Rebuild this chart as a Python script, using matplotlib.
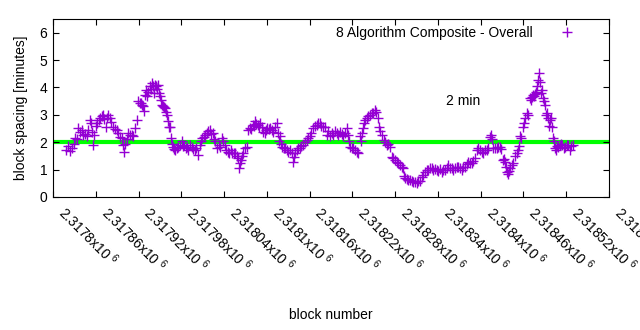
import matplotlib
matplotlib.use("Agg")
import matplotlib.pyplot as plt
import matplotlib.transforms as mtransforms
from matplotlib.ticker import FuncFormatter, MultipleLocator

plt.rcParams['font.family'] = ['Liberation Sans', 'DejaVu Sans']
plt.rcParams['mathtext.fontset'] = 'custom'
plt.rcParams['mathtext.rm'] = 'Liberation Sans'

# block numbers and block spacing (minutes)
blocks = [
    2317818, 2317821, 2317824, 2317827, 2317829, 2317831, 2317834, 2317835, 2317838, 2317841,
    2317842, 2317845, 2317848, 2317849, 2317852, 2317853, 2317855, 2317856, 2317858, 2317860,
    2317862, 2317865, 2317866, 2317869, 2317870, 2317872, 2317874, 2317876, 2317877, 2317880,
    2317881, 2317884, 2317887, 2317890, 2317891, 2317894, 2317897, 2317898, 2317900, 2317901,
    2317904, 2317905, 2317908, 2317911, 2317912, 2317915, 2317918, 2317919, 2317922, 2317923,
    2317925, 2317926, 2317928, 2317929, 2317930, 2317932, 2317933, 2317936, 2317937, 2317939,
    2317940, 2317942, 2317943, 2317944, 2317946, 2317947, 2317949, 2317950, 2317952, 2317953,
    2317954, 2317956, 2317957, 2317959, 2317960, 2317961, 2317963, 2317964, 2317966, 2317967,
    2317968, 2317970, 2317971, 2317974, 2317975, 2317978, 2317981, 2317982, 2317984, 2317987,
    2317988, 2317989, 2317992, 2317995, 2317996, 2317999, 2318001, 2318003, 2318006, 2318008,
    2318009, 2318012, 2318013, 2318016, 2318017, 2318020, 2318022, 2318024, 2318026, 2318027,
    2318030, 2318033, 2318034, 2318037, 2318038, 2318041, 2318043, 2318045, 2318047, 2318050,
    2318051, 2318054, 2318055, 2318058, 2318060, 2318061, 2318062, 2318064, 2318065, 2318067,
    2318069, 2318072, 2318074, 2318076, 2318078, 2318081, 2318082, 2318083, 2318085, 2318088,
    2318089, 2318090, 2318093, 2318095, 2318097, 2318099, 2318100, 2318103, 2318104, 2318107,
    2318109, 2318111, 2318114, 2318116, 2318117, 2318118, 2318120, 2318121, 2318124, 2318125,
    2318128, 2318130, 2318132, 2318135, 2318137, 2318138, 2318140, 2318142, 2318144, 2318147,
    2318148, 2318151, 2318154, 2318156, 2318158, 2318161, 2318162, 2318165, 2318168, 2318170,
    2318172, 2318175, 2318176, 2318179, 2318182, 2318184, 2318186, 2318189, 2318191, 2318193,
    2318196, 2318198, 2318200, 2318203, 2318205, 2318207, 2318210, 2318212, 2318214, 2318215,
    2318217, 2318219, 2318221, 2318224, 2318226, 2318228, 2318231, 2318232, 2318233, 2318235,
    2318236, 2318238, 2318240, 2318242, 2318245, 2318248, 2318249, 2318252, 2318253, 2318256,
    2318257, 2318259, 2318262, 2318264, 2318266, 2318269, 2318270, 2318273, 2318276, 2318277,
    2318280, 2318283, 2318284, 2318287, 2318290, 2318291, 2318292, 2318294, 2318297, 2318298,
    2318301, 2318304, 2318305, 2318308, 2318311, 2318312, 2318315, 2318318, 2318319, 2318322,
    2318325, 2318326, 2318329, 2318332, 2318333, 2318336, 2318339, 2318340, 2318343, 2318346,
    2318347, 2318350, 2318353, 2318354, 2318357, 2318360, 2318361, 2318364, 2318367, 2318368,
    2318371, 2318374, 2318375, 2318378, 2318381, 2318382, 2318385, 2318388, 2318389, 2318392,
    2318395, 2318396, 2318399, 2318402, 2318403, 2318406, 2318409, 2318410, 2318413, 2318415,
    2318416, 2318417, 2318420, 2318423, 2318424, 2318427, 2318429, 2318431, 2318433, 2318434,
    2318436, 2318437, 2318438, 2318440, 2318441, 2318444, 2318445, 2318448, 2318451, 2318452,
    2318454, 2318455, 2318457, 2318459, 2318461, 2318462, 2318465, 2318466, 2318469, 2318471,
    2318472, 2318473, 2318475, 2318476, 2318478, 2318479, 2318480, 2318482, 2318483, 2318485,
    2318486, 2318487, 2318489, 2318490, 2318492, 2318493, 2318494, 2318496, 2318497, 2318499,
    2318500, 2318501, 2318503, 2318504, 2318506, 2318507, 2318509, 2318511, 2318513, 2318514,
    2318517, 2318518, 2318521, 2318523, 2318525, 2318527, 2318530,
]
spacing = [
    1.72, 1.85, 1.68, 1.80, 1.95, 2.17, 2.10, 2.53, 2.39, 2.45,
    2.27, 2.30, 2.21, 2.45, 2.82, 2.70, 2.39, 1.90, 2.27, 2.60,
    2.70, 2.80, 2.88, 2.95, 3.00, 2.85, 2.57, 2.90, 3.00, 2.88,
    2.75, 2.57, 2.50, 2.45, 2.33, 2.20, 2.15, 1.90, 1.64, 1.95,
    2.10, 2.33, 2.27, 2.25, 2.21, 2.53, 2.82, 3.49, 3.45, 3.43,
    3.35, 3.31, 3.15, 3.74, 3.90, 3.70, 3.85, 4.05, 3.95, 4.15,
    4.05, 3.80, 4.10, 4.05, 3.95, 4.08, 3.80, 3.67, 3.55, 3.37,
    3.31, 3.28, 3.25, 3.10, 3.00, 2.76, 2.55, 2.57, 2.15, 1.95,
    1.84, 1.75, 1.72, 1.80, 1.84, 1.90, 2.03, 1.85, 1.90, 1.80,
    1.84, 1.72, 1.90, 1.84, 1.75, 1.72, 1.80, 1.54, 1.90, 2.05,
    2.15, 2.20, 2.27, 2.35, 2.40, 2.45, 2.30, 2.33, 2.10, 2.03,
    1.78, 1.90, 1.84, 2.15, 2.05, 1.90, 1.70, 1.66, 1.62, 1.70,
    1.60, 1.62, 1.60, 1.50, 1.42, 1.05, 1.23, 1.35, 1.48, 1.60,
    1.78, 1.84, 2.45, 2.53, 2.48, 2.64, 2.60, 2.78, 2.68, 2.64,
    2.55, 2.70, 2.57, 2.39, 2.33, 2.45, 2.53, 2.50, 2.53, 2.45,
    2.39, 2.55, 2.70, 2.33, 2.05, 2.21, 1.95, 1.84, 1.80, 1.78,
    1.70, 1.66, 1.70, 1.60, 1.29, 1.45, 1.60, 1.72, 1.80, 1.78,
    1.85, 1.90, 2.00, 2.09, 2.15, 2.21, 2.35, 2.53, 2.60, 2.64,
    2.70, 2.70, 2.60, 2.57, 2.57, 2.27, 2.40, 2.21, 2.35, 2.27,
    2.40, 2.33, 2.25, 2.39, 2.30, 2.21, 2.35, 2.53, 2.27, 2.05,
    1.84, 1.80, 1.78, 1.70, 1.66, 1.60, 2.21, 2.05, 2.33, 2.53,
    2.70, 2.82, 2.88, 2.95, 3.00, 3.05, 3.06, 3.19, 3.10, 2.88,
    2.57, 2.40, 2.27, 2.09, 2.00, 1.90, 1.95, 1.84, 1.45, 1.42,
    1.35, 1.29, 1.25, 1.17, 1.10, 1.05, 0.75, 0.68, 0.65, 0.62,
    0.63, 0.60, 0.56, 0.55, 0.52, 0.58, 0.60, 0.74, 0.82, 0.93,
    0.98, 1.00, 1.05, 1.05, 1.00, 1.03, 0.98, 0.96, 1.02, 0.93,
    0.98, 1.00, 1.05, 1.17, 1.05, 1.05, 1.00, 1.05, 1.10, 1.11,
    1.05, 1.00, 1.08, 1.11, 1.20, 1.29, 1.25, 1.23, 1.30, 1.42,
    1.72, 1.80, 1.72, 1.65, 1.60, 1.70, 1.72, 1.80, 2.20, 2.25,
    2.10, 1.78, 1.80, 1.78, 1.82, 1.84, 1.75, 1.36, 1.40, 1.29,
    1.10, 0.93, 0.85, 0.95, 1.05, 1.17, 1.25, 1.48, 1.60, 1.72,
    1.85, 2.21, 2.15, 2.57, 2.70, 2.88, 3.06, 3.00, 3.61, 3.55,
    3.65, 3.74, 3.70, 3.75, 3.85, 4.05, 4.28, 4.53, 4.20, 3.80,
    3.92, 3.61, 3.50, 3.37, 3.00, 3.06, 2.88, 2.60, 2.82, 2.90,
    2.57, 2.15, 2.05, 1.78, 1.70, 1.85, 1.84, 1.90, 1.95, 1.90,
    1.78, 1.84, 1.90, 1.90, 1.72, 1.85, 1.90,
]

target_minutes = 2
x_min, x_max = 2317800, 2318580
x_step = 60
y_max = 6.5

fig = plt.figure(figsize=(6.4, 3.3), dpi=100)
ax = fig.add_axes([53 / 640, 133 / 330, 556 / 640, 178 / 330])

ax.axhline(target_minutes, color='#00ff00', linewidth=3.0, zorder=1)
ax.plot(blocks, spacing, linestyle='none', marker='+', markersize=7, markeredgewidth=1.0,
        color='#9400d3', label='8 Algorithm Composite - Overall', zorder=2)

ax.text(2318351, 3.52, '2 min', fontsize=10, ha='left', va='center')

ax.set_xlim(x_min, x_max)
ax.set_ylim(0, y_max)
ax.xaxis.set_major_locator(MultipleLocator(x_step))
ax.yaxis.set_major_locator(MultipleLocator(1))
ax.xaxis.set_major_formatter(FuncFormatter(lambda v, pos: '%gx10 $^{6}$' % (v / 1e6)))

ax.tick_params(direction='in', top=True, right=True, length=4, width=0.8, labelsize=10)
ax.tick_params(axis='y', pad=4)

# gnuplot-style rotated labels, starting a little right of the tick
shift = mtransforms.ScaledTranslation(15 / 100, -1 / 100, fig.dpi_scale_trans)
for lab in ax.get_xticklabels():
    lab.set_rotation(-45)
    lab.set_ha('left')
    lab.set_va('top')
    lab.set_rotation_mode('anchor')
    lab.set_transform(lab.get_transform() + shift)

ax.set_xlabel('block number', fontsize=10, va='top')
ax.xaxis.set_label_coords(0.5, -(308 - 197) / 178)
ax.set_ylabel('block spacing [minutes]', fontsize=10, labelpad=8)

ax.legend(loc='upper right', markerfirst=False, frameon=False, fontsize=10,
          handlelength=2.5, handletextpad=1.2, borderaxespad=0.3,
          bbox_to_anchor=(1 - 15 / 556, 1 + 3 / 178))

fig.savefig('out.png', dpi=100)
